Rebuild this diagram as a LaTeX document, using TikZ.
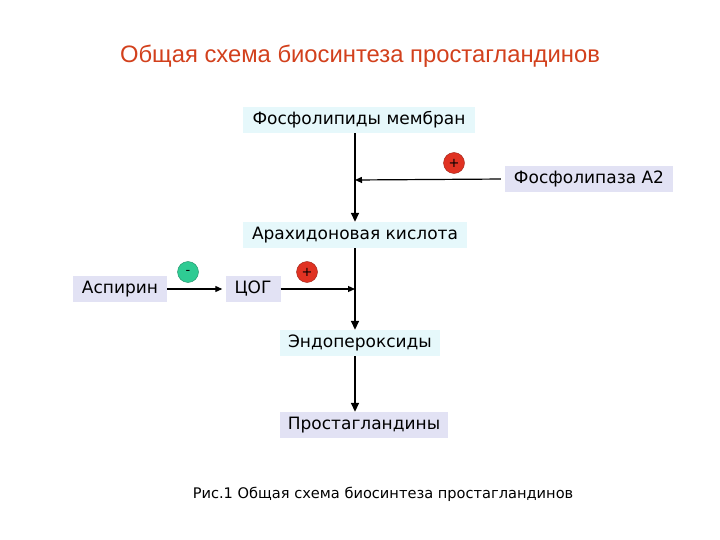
\documentclass[tikz,border=0pt]{standalone}
\usepackage{fontspec}
\setmainfont{DejaVu Sans}
\newfontfamily\titlefont{Liberation Sans}
\usetikzlibrary{arrows.meta}
\definecolor{cyanbox}{HTML}{E6F8FB}
\definecolor{lavbox}{HTML}{E2E2F4}
\definecolor{titlered}{HTML}{D2401C}
\definecolor{plusred}{HTML}{E03222}
\definecolor{minusgreen}{HTML}{2FCB93}
\tikzset{
  boxc/.style={fill=cyanbox, minimum height=26pt, inner sep=0pt, font=\fontsize{17}{19}\selectfont},
  boxl/.style={fill=lavbox, minimum height=26pt, inner sep=0pt, font=\fontsize{17}{19}\selectfont},
  arr/.style={line width=1.6pt, -{Triangle[length=9pt,width=8pt]}},
  arrs/.style={line width=1.2pt, -{Triangle[length=7pt,width=6pt]}},
  sign/.style={circle, minimum size=21pt, inner sep=0pt, draw=#1!70!black, fill=#1, font=\fontsize{13}{13}\selectfont},
}
\begin{document}
\begin{tikzpicture}[x=1pt,y=-1pt]
\useasboundingbox (0,0) rectangle (720,540);
\node[text=titlered, font=\titlefont\fontsize{23.8}{26}\selectfont] (title) at (360,56) {Общая схема биосинтеза простагландинов};
\node[boxc, minimum width=232pt] (fm) at (359,120) {Фосфолипиды мембран};
\node[boxl, minimum width=168pt] (fla) at (589,179) {Фосфолипаза А2};
\node[boxc, minimum width=224pt] (ak) at (355,235) {Арахидоновая кислота};
\node[boxl, minimum width=94pt] (asp) at (120,289) {Аспирин};
\node[boxl, minimum width=55pt] (cog) at (253,289) {ЦОГ};
\node[boxc, minimum width=160pt] (endo) at (360,343) {Эндопероксиды};
\node[boxl, minimum width=168pt] (pg) at (364,425) {Простагландины};
\coordinate (j1) at (355,180);
\coordinate (j2) at (355,289);
\draw[arr] (fm.south -| j1) -- (ak.north -| j1);
\draw[arrs, shorten <=4pt] (fla.west) -- (j1);
\draw[arr] (ak.south -| j1) -- (endo.north -| j1);
\draw[arrs, shorten >=3pt] (asp.east) -- (cog.west);
\draw[arrs] (cog.east) -- (j2);
\draw[arr] (endo.south -| j1) -- (pg.north -| j1);
\node[sign=plusred] (s1) at (454,163) {+};
\node[sign=minusgreen] (s2) at (188,272) {-};
\node[sign=plusred] (s3) at (307,272) {+};
\node[font=\fontsize{14.6}{16}\selectfont] (cap) at (383,494) {Рис.1 Общая схема биосинтеза простагландинов};
\end{tikzpicture}
\end{document}
